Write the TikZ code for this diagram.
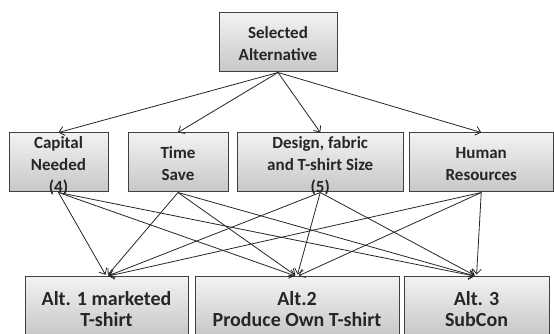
\documentclass[tikz,border=0pt]{standalone}
\usepackage{fontspec}
\setmainfont{Carlito}
\usetikzlibrary{arrows.meta,calc}
\begin{document}
\begin{tikzpicture}[x=1pt,y=1pt,
  box/.style={draw=black!75, line width=1pt, top color=black!5, bottom color=black!22, minimum height=59pt, inner sep=0pt},
  lbl/.style={font=\bfseries\fontsize{17}{22}\selectfont, align=center, text=black!85, inner sep=0pt},
  biglbl/.style={lbl, font=\bfseries\fontsize{20}{21.5}\selectfont},
  arr/.style={-{Straight Barb[length=5pt,width=9pt]}, line width=0.8pt, draw=black!85}]
\useasboundingbox (0,0) rectangle (554,334);
\clip (0,0) rectangle (554,334);
% boxes
\node[box, minimum width=118pt] (top) at (278,291.5) {};
\node[box, minimum width=99pt] (b1) at (58.5,171.5) {};
\node[box, minimum width=100pt] (b2) at (178,171.5) {};
\node[box, minimum width=165.5pt] (b3) at (320.25,171.5) {};
\node[box, minimum width=143.5pt] (b4) at (481.25,171.5) {};
\node[box, minimum width=163pt] (cA) at (106.5,27.5) {};
\node[box, minimum width=204pt] (cB) at (297,27.5) {};
\node[box, minimum width=145pt] (cC) at (476.5,27.5) {};
% texts
\node[lbl] (topt) at (278,290) {Selected\\Alternative};
\node[lbl] (b1t) at (58.5,168.5) {Capital\\Needed\\(4)};
\node[lbl] (b2t) at (178,170) {Time\\Save};
\node[lbl] (b3t) at (320.25,168.5) {Design, fabric\\and T-shirt Size\\(5)};
\node[lbl] (b4t) at (481.25,170) {Human\\Resources};
\node[biglbl] (cAt) at (106.5,25) {Alt. 1 marketed\\T-shirt};
\node[biglbl] (cBt) at (297,25) {Alt.2\\Produce Own T-shirt};
\node[biglbl] (cCt) at (476.5,25) {Alt. 3\\SubCon};
% top arrows
\foreach \m in {b1,b2,b3,b4}
  \draw[arr] (top.south) -- (\m.north);
% lower arrows
\foreach \m in {b1,b2,b3,b4}
  \foreach \c in {cA,cB,cC}
    \draw[arr, shorten >=2pt] (\m.south) -- (\c.north);
\end{tikzpicture}
\end{document}
